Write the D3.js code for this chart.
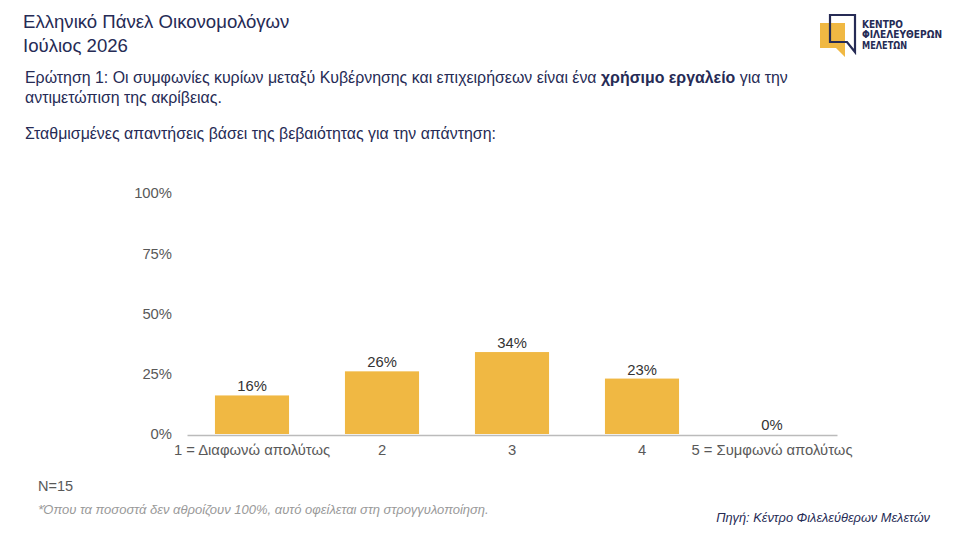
<!DOCTYPE html>
<html>
<head>
<meta charset="utf-8">
<script src="https://cdn.jsdelivr.net/npm/d3@7"></script>
<style>
  body { margin: 0; background: #fff; }
  svg { display: block; font-family: "Liberation Sans", Arial, sans-serif; }
</style>
</head>
<body>
<div id="chart"></div>
<script>
const categories = ['1 = Διαφωνώ απολύτως', '2', '3', '4', '5 = Συμφωνώ απολύτως'];
const values = [16, 26, 34, 23, 0];
const yTicks = [0, 25, 50, 75, 100];

const width = 960;
const height = 540;
const navy = '#262b55';
const barColor = '#f0b843';

const svg = d3.select('#chart').append('svg')
    .attr('width', width)
    .attr('height', height);

// Heading
svg.append('text')
    .attr('x', 23).attr('y', 28)
    .attr('fill', navy).style('font-size', '18.6px')
    .text('Ελληνικό Πάνελ Οικονομολόγων');
svg.append('text')
    .attr('x', 23).attr('y', 52)
    .attr('fill', navy).style('font-size', '18.6px')
    .text('Ιούλιος 2026');

// Question
const q = svg.append('text')
    .attr('x', 25).attr('y', 83)
    .attr('fill', navy).style('font-size', '15.9px');
q.append('tspan').text('Ερώτηση 1: Οι συμφωνίες κυρίων μεταξύ Κυβέρνησης και επιχειρήσεων είναι ένα ');
q.append('tspan').style('font-weight', 'bold').text('χρήσιμο εργαλείο');
q.append('tspan').text(' για την');
svg.append('text')
    .attr('x', 25).attr('y', 103)
    .attr('fill', navy).style('font-size', '15.9px')
    .text('αντιμετώπιση της ακρίβειας.');
svg.append('text')
    .attr('x', 25).attr('y', 139)
    .attr('fill', navy).style('font-size', '15.9px')
    .text('Σταθμισμένες απαντήσεις βάσει της βεβαιότητας για την απάντηση:');

// Logo
const logo = svg.append('g');
logo.append('path')
    .attr('d', 'M820,23 H845 V57 L836,48 H820 Z')
    .attr('fill', barColor);
logo.append('path')
    .attr('d', 'M847,42 H830 V15 H855 V52 Z')
    .attr('fill', 'none')
    .attr('stroke', navy)
    .attr('stroke-width', 2.2);
['ΚΕΝΤΡΟ', 'ΦΙΛΕΛΕΥΘΕΡΩΝ', 'ΜΕΛΕΤΩΝ'].forEach((t, i) => {
  logo.append('text')
      .attr('x', 862).attr('y', 27.5 + i * 10.5)
      .attr('fill', navy)
      .style('font-family', '"DejaVu Sans Condensed", "DejaVu Sans", sans-serif')
      .style('font-weight', 'bold')
      .style('font-size', '10.5px')
      .attr('textLength', [41, 80, 45][i])
      .attr('lengthAdjust', 'spacingAndGlyphs')
      .text(t);
});

// Chart
const x = d3.scaleBand()
    .domain(categories)
    .range([187, 837])
    .paddingInner(0.43)
    .paddingOuter(0.215);

const y = d3.scaleLinear()
    .domain([0, 100])
    .range([434, 193]);

const yAxis = svg.append('g')
    .attr('transform', 'translate(178,0)')
    .call(d3.axisLeft(y).tickValues(yTicks).tickFormat(d => d + '%').tickSize(0).tickPadding(6));
yAxis.select('.domain').remove();
yAxis.selectAll('text')
    .attr('fill', '#595959')
    .style('font-size', '14.8px')
    .style('font-family', '"Liberation Sans", Arial, sans-serif');

svg.selectAll('rect.bar')
    .data(values)
    .join('rect')
    .attr('class', 'bar')
    .attr('x', (d, i) => x(categories[i]))
    .attr('y', d => y(d))
    .attr('width', x.bandwidth())
    .attr('height', d => y(0) - y(d))
    .attr('fill', barColor);

svg.selectAll('text.val')
    .data(values)
    .join('text')
    .attr('class', 'val')
    .attr('x', (d, i) => x(categories[i]) + x.bandwidth() / 2)
    .attr('y', d => y(d) - 4)
    .attr('text-anchor', 'middle')
    .attr('fill', '#333')
    .style('font-size', '14.8px')
    .text(d => d + '%');

const xAxis = svg.append('g')
    .attr('transform', `translate(0,${y(0) + 1})`)
    .call(d3.axisBottom(x).tickSize(0).tickPadding(9));
xAxis.select('.domain').attr('stroke', '#bbb').attr('stroke-width', 1.3);
xAxis.selectAll('text')
    .attr('fill', '#595959')
    .style('font-size', '14.8px')
    .style('font-family', '"Liberation Sans", Arial, sans-serif');

// Footer
svg.append('text')
    .attr('x', 38).attr('y', 491)
    .attr('fill', '#595959').style('font-size', '14.5px')
    .text('N=15');
svg.append('text')
    .attr('x', 38).attr('y', 514)
    .attr('fill', '#999').style('font-size', '13px').style('font-style', 'italic')
    .text('*Όπου τα ποσοστά δεν αθροίζουν 100%, αυτό οφείλεται στη στρογγυλοποίηση.');
svg.append('text')
    .attr('x', 930).attr('y', 522)
    .attr('text-anchor', 'end')
    .attr('fill', navy).style('font-size', '12.8px').style('font-style', 'italic')
    .text('Πηγή: Κέντρο Φιλελεύθερων Μελετών');
</script>
</body>
</html>
